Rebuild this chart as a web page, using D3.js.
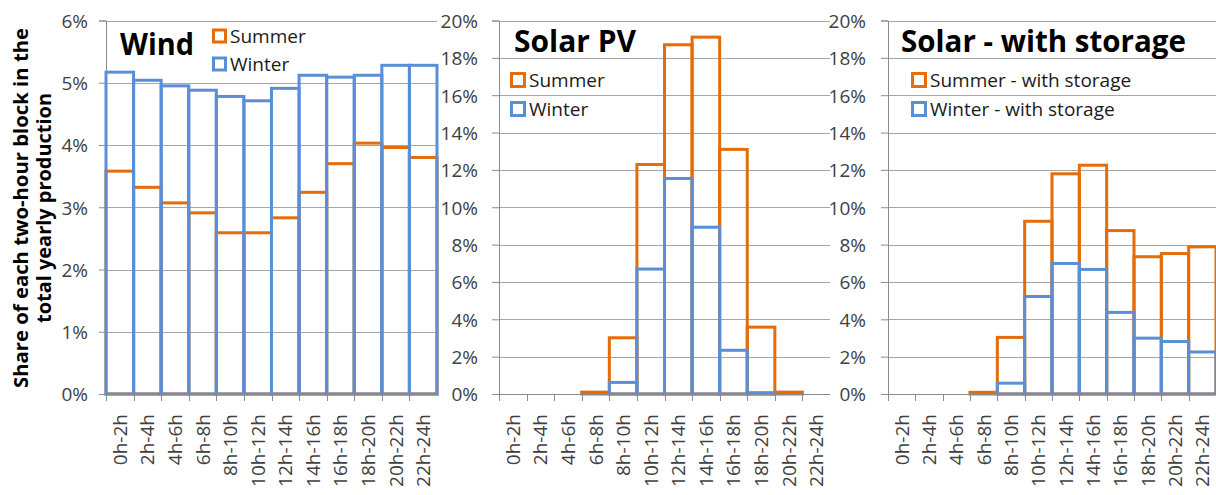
<!DOCTYPE html>
<html>
<head>
<meta charset="utf-8">
<script src="https://cdn.jsdelivr.net/npm/d3@7"></script>
<style>
  body { margin: 0; background: #fff; }
  svg { display: block; font-family: "Open Sans", sans-serif; }
</style>
</head>
<body>
<svg id="chart" width="1216" height="495"></svg>
<script>
// two-hour blocks
const blocks = ["0h-2h", "2h-4h", "4h-6h", "6h-8h", "8h-10h", "10h-12h", "12h-14h",
  "14h-16h", "16h-18h", "18h-20h", "20h-22h", "22h-24h"];

// share of yearly production, in %  (null = no bar)
const windSummer = [3.58, 3.32, 3.07, 2.91, 2.59, 2.59, 2.83, 3.24, 3.70, 4.03, 3.96, 3.80];
const windWinter = [5.17, 5.04, 4.95, 4.88, 4.78, 4.71, 4.91, 5.12, 5.09, 5.12, 5.28, 5.28];

const pvSummer = [null, null, null, 0.10, 3.01, 12.29, 18.70, 19.11, 13.10, 3.58, 0.10, null];
const pvWinter = [null, null, null, null, 0.62, 6.69, 11.54, 8.93, 2.34, 0.07, null, null];

const storSummer = [null, null, null, 0.09, 3.03, 9.25, 11.79, 12.25, 8.75, 7.35, 7.52, 7.88];
const storWinter = [null, null, null, null, 0.58, 5.22, 6.99, 6.67, 4.37, 2.99, 2.81, 2.25];

const windTicks = [0, 1, 2, 3, 4, 5, 6];
const solarTicks = [0, 2, 4, 6, 8, 10, 12, 14, 16, 18, 20];

const ORANGE = "#E46C0A";
const BLUE = "#5A8FD8";

const panels = [
  { title: "Wind", titleX: 120, titleY: 55, titleW: 74, left: 106, right: 437, yMax: 6, ticks: windTicks,
    summer: windSummer, winter: windWinter, labelPad: 18,
    legend: { x: 212, y1: 36, y2: 64, size: 12, names: ["Summer", "Winter"] } },
  { title: "Solar PV", titleX: 514, titleY: 52, titleW: 122, left: 499, right: 830, yMax: 20, ticks: solarTicks,
    summer: pvSummer, winter: pvWinter, labelPad: 21,
    legend: { x: 510, y1: 80, y2: 109, size: 13, names: ["Summer", "Winter"] } },
  { title: "Solar - with storage", titleX: 901, titleY: 52, titleW: 285, left: 888, right: 1216, yMax: 20, ticks: solarTicks,
    summer: storSummer, winter: storWinter, labelPad: 22,
    legend: { x: 911, y1: 80, y2: 109, size: 13, names: ["Summer - with storage", "Winter - with storage"] } }
];

const plotTop = 20.5, plotBottom = 394;
const svg = d3.select("#chart");

panels.forEach(p => {
  const g = svg.append("g");
  const x = d3.scaleBand().domain(blocks).range([p.left, p.right]).padding(0);
  const y = d3.scaleLinear().domain([0, p.yMax]).range([plotBottom, plotTop]);

  // gridlines
  g.append("g").selectAll("line").data(p.ticks.slice(1)).join("line")
    .attr("x1", p.left).attr("x2", p.right)
    .attr("y1", d => Math.round(y(d)) + 0.5).attr("y2", d => Math.round(y(d)) + 0.5)
    .attr("stroke", "#A6A6A6").attr("stroke-width", 1);

  // y axis
  const yAxis = g.append("g").attr("transform", `translate(${p.left},0)`)
    .call(d3.axisLeft(y).tickValues(p.ticks).tickSize(7).tickPadding(p.labelPad - 7)
      .tickFormat(d => d + "%"));
  yAxis.select(".domain").attr("stroke", "#8C8C8C");
  yAxis.selectAll(".tick line").attr("stroke", "#8C8C8C");
  yAxis.selectAll("text").attr("font-size", 19).attr("fill", "#404040")
    .attr("font-family", "Open Sans").attr("dy", "0.36em");

  // bars: outlines only, summer behind winter
  [[p.summer, ORANGE], [p.winter, BLUE]].forEach(([vals, col]) => {
    g.append("g").selectAll("rect")
      .data(blocks.map((b, i) => ({ b, v: vals[i] })).filter(d => d.v !== null))
      .join("rect")
      .attr("x", d => x(d.b))
      .attr("width", x.bandwidth())
      .attr("y", d => y(d.v))
      .attr("height", d => plotBottom - y(d.v))
      .attr("fill", "none")
      .attr("stroke", col)
      .attr("stroke-width", 3);
  });

  // x axis line and ticks on block boundaries
  g.append("line").attr("x1", p.left).attr("x2", p.right)
    .attr("y1", plotBottom + 0.5).attr("y2", plotBottom + 0.5).attr("stroke", "#8C8C8C");
  g.append("g").selectAll("line").data(blocks).join("line")
    .attr("x1", d => Math.round(x(d)) + 0.5).attr("x2", d => Math.round(x(d)) + 0.5)
    .attr("y1", plotBottom).attr("y2", plotBottom + 7).attr("stroke", "#8C8C8C");

  // x labels, rotated
  g.append("g").selectAll("text").data(blocks).join("text")
    .attr("transform", d => `translate(${x(d) + x.bandwidth() / 2 + 7},${plotBottom + 20}) rotate(-90)`)
    .attr("text-anchor", "end")
    .attr("font-size", 19).attr("fill", "#404040")
    .text(d => d);

  // title
  g.append("text").attr("x", p.titleX).attr("y", p.titleY)
    .attr("font-size", 30).attr("font-weight", 700).attr("fill", "#000")
    .attr("textLength", p.titleW).attr("lengthAdjust", "spacingAndGlyphs")
    .text(p.title);

  // legend
  const L = p.legend;
  [[L.y1, ORANGE, L.names[0]], [L.y2, BLUE, L.names[1]]].forEach(([cy, col, name]) => {
    g.append("rect").attr("x", L.x + 1.5).attr("y", cy - L.size / 2)
      .attr("width", L.size).attr("height", L.size)
      .attr("fill", "#fff").attr("stroke", col).attr("stroke-width", 3);
    g.append("text").attr("x", L.x + L.size + 6).attr("y", cy + 7)
      .attr("font-size", 19).attr("fill", "#1a1a1a").text(name);
  });
});

// shared y-axis title
const yt = svg.append("g").attr("font-weight", 700).attr("font-size", 20).attr("fill", "#000")
  .attr("text-anchor", "middle").attr("lengthAdjust", "spacingAndGlyphs");
yt.append("text").attr("transform", "translate(28,208) rotate(-90)")
  .attr("textLength", 360).attr("lengthAdjust", "spacingAndGlyphs")
  .text("Share of each two-hour block in the");
yt.append("text").attr("transform", "translate(51,208) rotate(-90)")
  .attr("textLength", 230).attr("lengthAdjust", "spacingAndGlyphs")
  .text("total yearly production");
</script>
</body>
</html>
